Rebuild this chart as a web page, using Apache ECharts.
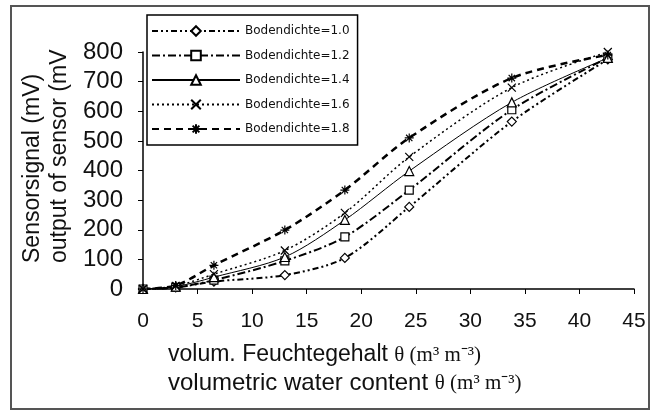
<!DOCTYPE html>
<html>
<head>
<meta charset="utf-8">
<script src="https://cdn.jsdelivr.net/npm/echarts@6/dist/echarts.min.js"></script>
<style>
  html, body { margin: 0; padding: 0; background: #fff; }
  #chart { width: 658px; height: 412px; }
</style>
</head>
<body>
<div id="chart"></div>
<script>
// volumetric water content (x) for every measurement
var moisture = [0, 3, 6.5, 13, 18.5, 24.4, 33.8, 42.6];

var names = ['Bodendichte=1.0', 'Bodendichte=1.2', 'Bodendichte=1.4', 'Bodendichte=1.6', 'Bodendichte=1.8'];

// sensor output in mV
var d10 = [0, 5, 25, 47, 105, 277, 565, 775];
var d12 = [0, 5, 30, 95, 176, 334, 605, 780];
var d14 = [0, 8, 40, 108, 233, 398, 630, 780];
var d16 = [0, 10, 50, 130, 257, 446, 680, 800];
var d18 = [0, 12, 80, 199, 334, 510, 712, 790];

var xTicks = [0, 5, 10, 15, 20, 25, 30, 35, 40, 45];
var yTicks = [0, 100, 200, 300, 400, 500, 600, 700, 800];

var myChart = echarts.init(document.getElementById('chart'));

function pairs(vals) {
    return vals.map(function (v, i) { return [moisture[i], v]; });
}

var xPath = 'path://M0,0L10,10M10,0L0,10';
var starPath = 'path://M5,0L5,10M0,5L10,5M1.5,1.5L8.5,8.5M8.5,1.5L1.5,8.5';

function mkSeries(name, vals, symbol, size, lineType, width) {
    return {
        name: name,
        type: 'line',
        smooth: 0.3,
        data: pairs(vals),
        symbol: symbol,
        symbolSize: size,
        lineStyle: { color: '#000', width: width, type: lineType },
        itemStyle: { color: '#fff', borderColor: '#000', borderWidth: 1.2 }
    };
}

var richX = {
    a: { fontFamily: 'Liberation Sans', fontSize: 23, fill: '#111' },
    b: { fontFamily: 'Liberation Sans', fontSize: 24, fill: '#111' },
    s: { fontFamily: 'Liberation Serif', fontSize: 21, fill: '#111' }
};

option = {
    animation: false,
    backgroundColor: '#fff',
    grid: { left: 143, right: 24, top: 52, bottom: 123 },
    legend: {
        orient: 'vertical',
        left: 147,
        top: 15,
        padding: [10, 8, 10, 4],
        itemWidth: 88,
        itemHeight: 12,
        itemGap: 12.5,
        borderColor: '#000',
        borderWidth: 1.5,
        textStyle: { fontFamily: 'DejaVu Sans', fontSize: 12, color: '#111' },
        data: names
    },
    xAxis: {
        type: 'value',
        min: 0,
        max: 45,
        interval: 5,
        axisLine: { lineStyle: { color: '#000', width: 1.5 } },
        axisTick: { length: 5, lineStyle: { color: '#000' } },
        splitLine: { show: false },
        axisLabel: {
            margin: 22,
            fontFamily: 'Liberation Sans',
            fontSize: 21,
            color: '#111',
            formatter: function (v) { return xTicks.indexOf(v) >= 0 ? v : ''; }
        }
    },
    yAxis: {
        type: 'value',
        min: 0,
        max: 800,
        interval: 100,
        axisLine: { show: true, lineStyle: { color: '#000', width: 1.5 } },
        axisTick: { show: true, length: 5, lineStyle: { color: '#000' } },
        splitLine: { show: false },
        axisLabel: {
            margin: 20,
            fontFamily: 'Liberation Sans',
            fontSize: 24,
            color: '#111',
            formatter: function (v) { return yTicks.indexOf(v) >= 0 ? v : ''; }
        }
    },
    graphic: [
        {
            type: 'rect',
            shape: { x: 11, y: 6, width: 638, height: 403 },
            style: { fill: 'none', stroke: '#555', lineWidth: 2 },
            silent: true
        },
        {
            type: 'text',
            x: 33, y: 263,
            rotation: Math.PI / 2,
            style: {
                text: 'Sensorsignal (mV)',
                font: '23px "Liberation Sans"',
                fill: '#111',
                textAlign: 'left',
                textVerticalAlign: 'middle'
            }
        },
        {
            type: 'text',
            x: 60, y: 263,
            rotation: Math.PI / 2,
            style: {
                text: 'output of sensor (mV',
                font: '23px "Liberation Sans"',
                fill: '#111',
                textAlign: 'left',
                textVerticalAlign: 'middle'
            }
        },
        {
            type: 'text',
            x: 168, y: 355,
            style: {
                rich: richX,
                text: '{a|volum. Feuchtegehalt }{s|θ (m³ m⁻³)}',
                textVerticalAlign: 'middle'
            }
        },
        {
            type: 'text',
            x: 168, y: 383,
            style: {
                rich: richX,
                text: '{b|volumetric water content }{s|θ (m³ m⁻³)}',
                textVerticalAlign: 'middle'
            }
        }
    ],
    series: [
        mkSeries(names[0], d10, 'diamond', 9, [6, 3, 2, 3, 2, 3], 2),
        mkSeries(names[1], d12, 'rect', 8, [8, 3, 2, 3], 2),
        mkSeries(names[2], d14, 'triangle', 9, 'solid', 1),
        mkSeries(names[3], d16, xPath, 8, [2, 3], 1.5),
        mkSeries(names[4], d18, starPath, 9, [7, 5], 2.5)
    ]
};

myChart.setOption(option);
</script>
</body>
</html>
